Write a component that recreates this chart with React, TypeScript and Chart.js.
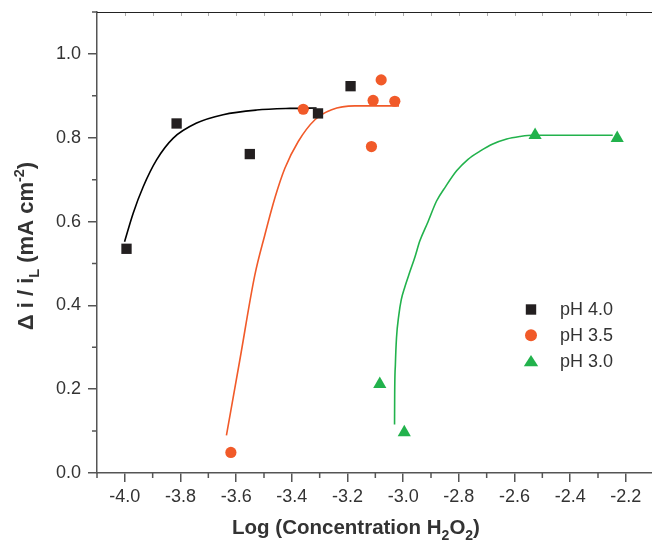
import React, { useEffect, useRef } from 'react';
import { Chart, registerables } from 'chart.js';

Chart.register(...registerables);

// ---------- data ----------
const PH40_X = [-3.994, -3.814, -3.551, -3.306, -3.189];
const PH40_Y = [0.535, 0.834, 0.761, 0.858, 0.923];

const PH35_X = [-3.619, -3.359, -3.114, -3.108, -3.079, -3.030];
const PH35_Y = [0.049, 0.868, 0.779, 0.889, 0.938, 0.887];

const PH30_X = [-3.084, -2.996, -2.526, -2.231];
const PH30_Y = [0.212, 0.097, 0.806, 0.799];

const FIT40_X = [-4.001, -3.970, -3.934, -3.886, -3.826, -3.742, -3.647, -3.527, -3.407, -3.311];
const FIT40_Y = [0.552, 0.620, 0.683, 0.747, 0.799, 0.835, 0.855, 0.866, 0.870, 0.871];

const FIT35_X = [-3.635, -3.587, -3.533, -3.497, -3.461, -3.425, -3.377, -3.317, -3.257, -3.174, -3.015];
const FIT35_Y = [0.090, 0.269, 0.472, 0.568, 0.656, 0.727, 0.791, 0.843, 0.867, 0.876, 0.876];

const FIT30_X = [-3.031, -3.0305, -3.028, -3.024, -3.016, -3.007, -2.994, -2.976, -2.958, -2.940, -2.911, -2.880, -2.847, -2.808, -2.768, -2.724, -2.678, -2.628, -2.580, -2.537, -2.247];
const FIT30_Y = [0.116, 0.186, 0.258, 0.322, 0.375, 0.413, 0.444, 0.480, 0.515, 0.554, 0.599, 0.649, 0.684, 0.721, 0.748, 0.768, 0.785, 0.797, 0.803, 0.806, 0.806];

const X_TICKS = [-4.0, -3.8, -3.6, -3.4, -3.2, -3.0, -2.8, -2.6, -2.4, -2.2];
const X_MINOR = [-4.1, -3.9, -3.7, -3.5, -3.3, -3.1, -2.9, -2.7, -2.5, -2.3];
const TOP_TICKS = [-4.0, -3.9, -3.8, -3.7, -3.6, -3.5, -3.4, -3.3, -3.2, -3.1, -3.0, -2.9, -2.8, -2.7, -2.6, -2.5, -2.4, -2.3, -2.2];
const Y_TICKS = [0.0, 0.2, 0.4, 0.6, 0.8, 1.0];
const Y_MINOR = [0.1, 0.3, 0.5, 0.7, 0.9, 1.1];

const LEGEND_LABELS = ['pH 4.0', 'pH 3.5', 'pH 3.0'];
const X_TITLE = [
  { t: 'Log (Concentration H', k: 'n' },
  { t: '2', k: 'sub' },
  { t: 'O', k: 'n' },
  { t: '2', k: 'sub' },
  { t: ')', k: 'n' },
];
const Y_TITLE = [
  { t: 'Δ i / i', k: 'n' },
  { t: 'L', k: 'sub' },
  { t: ' (mA cm', k: 'n' },
  { t: '-2', k: 'sup' },
  { t: ')', k: 'n' },
];

// ---------- styles ----------
const FONT = "'Liberation Sans', Arial, Helvetica, sans-serif";
const BLACK = '#231f20';
const ORANGE = '#f15a29';
const GREEN = '#22b24c';
const AXIS = '#555555';
const TEXT = '#333333';

const pts = (xs: number[], ys: number[]) => xs.map((x, i) => ({ x, y: ys[i] }));

function drawRich(ctx: CanvasRenderingContext2D, parts: { t: string; k: string }[], cx: number, baseline: number, size: number, subSize: number) {
  const fontFor = (k: string) => `bold ${k === 'n' ? size : subSize}px ${FONT}`;
  let total = 0;
  const widths = parts.map((p) => {
    ctx.font = fontFor(p.k);
    const w = ctx.measureText(p.t).width;
    total += w;
    return w;
  });
  let x = cx - total / 2;
  ctx.textAlign = 'left';
  ctx.textBaseline = 'alphabetic';
  parts.forEach((p, i) => {
    ctx.font = fontFor(p.k);
    const dy = p.k === 'sub' ? size * 0.28 : p.k === 'sup' ? -size * 0.42 : 0;
    ctx.fillText(p.t, x, baseline + dy);
    x += widths[i];
  });
}

const decorPlugin = {
  id: 'decor',
  afterDraw(chart: any) {
    const { ctx, chartArea, scales } = chart;
    const xs = scales.x;
    const ys = scales.y;
    ctx.save();
    // top border
    ctx.strokeStyle = '#222222';
    ctx.lineWidth = 1;
    ctx.beginPath();
    ctx.moveTo(chartArea.left, chartArea.top + 0.5);
    ctx.lineTo(chartArea.right, chartArea.top + 0.5);
    ctx.stroke();
    // top inward ticks
    ctx.strokeStyle = '#aaaaaa';
    ctx.beginPath();
    TOP_TICKS.forEach((v) => {
      const px = Math.round(xs.getPixelForValue(v)) + 0.5;
      ctx.moveTo(px, chartArea.top + 1);
      ctx.lineTo(px, chartArea.top + 4);
    });
    ctx.stroke();
    // minor ticks
    ctx.strokeStyle = AXIS;
    ctx.lineWidth = 1.5;
    ctx.beginPath();
    X_MINOR.forEach((v) => {
      const px = xs.getPixelForValue(v);
      ctx.moveTo(px, chartArea.bottom);
      ctx.lineTo(px, chartArea.bottom + 5);
    });
    Y_MINOR.forEach((v) => {
      const py = ys.getPixelForValue(v);
      ctx.moveTo(chartArea.left - 5, py);
      ctx.lineTo(chartArea.left, py);
    });
    ctx.stroke();

    // axis titles
    ctx.fillStyle = TEXT;
    drawRich(ctx, X_TITLE, 356, 534, 20.5, 14);
    ctx.save();
    ctx.translate(33, 246);
    ctx.rotate(-Math.PI / 2);
    drawRich(ctx, Y_TITLE, 0, 0, 22, 14.5);
    ctx.restore();

    // legend
    const lx = 531;
    const rows = [309.5, 335.2, 361];
    ctx.fillStyle = BLACK;
    ctx.fillRect(lx - 5.2, rows[0] - 5.2, 10.4, 10.4);
    ctx.fillStyle = ORANGE;
    ctx.beginPath();
    ctx.arc(lx, rows[1], 6, 0, Math.PI * 2);
    ctx.fill();
    ctx.fillStyle = GREEN;
    ctx.beginPath();
    ctx.moveTo(lx, rows[2] - 6);
    ctx.lineTo(lx + 7.2, rows[2] + 5.2);
    ctx.lineTo(lx - 7.2, rows[2] + 5.2);
    ctx.closePath();
    ctx.fill();
    ctx.fillStyle = TEXT;
    ctx.font = `18px ${FONT}`;
    ctx.textAlign = 'left';
    ctx.textBaseline = 'middle';
    LEGEND_LABELS.forEach((l, i) => ctx.fillText(l, 560, rows[i] + 1));
    ctx.restore();
  },
};

const zeroPad = (s: any) => {
  s.paddingTop = 0;
  s.paddingBottom = 0;
  s.paddingLeft = 0;
  s.paddingRight = 0;
};

export default function App() {
  const ref = useRef<HTMLCanvasElement>(null);
  useEffect(() => {
    if (!ref.current) return;
    const chart = new Chart(ref.current, {
      type: 'scatter',
      data: {
        datasets: [
          { label: 'pH 4.0', data: pts(PH40_X, PH40_Y), pointStyle: 'rect', pointRadius: 7.3, backgroundColor: BLACK, borderWidth: 0, showLine: false },
          { label: 'pH 3.5', data: pts(PH35_X, PH35_Y), pointStyle: 'circle', pointRadius: 5.6, backgroundColor: ORANGE, borderWidth: 0, showLine: false },
          { label: 'pH 3.0', data: pts(PH30_X, PH30_Y), pointStyle: 'triangle', pointRadius: 7.6, backgroundColor: GREEN, borderWidth: 0, showLine: false },
          { label: 'fit 4.0', data: pts(FIT40_X, FIT40_Y), showLine: true, borderColor: '#000000', borderWidth: 1.6, pointRadius: 0, cubicInterpolationMode: 'monotone', fill: false },
          { label: 'fit 3.5', data: pts(FIT35_X, FIT35_Y), showLine: true, borderColor: ORANGE, borderWidth: 1.6, pointRadius: 0, cubicInterpolationMode: 'monotone', fill: false },
          { label: 'fit 3.0', data: pts(FIT30_X, FIT30_Y), showLine: true, borderColor: GREEN, borderWidth: 1.6, pointRadius: 0, cubicInterpolationMode: 'monotone', fill: false },
        ] as any,
      },
      options: {
        animation: false,
        responsive: false,
        devicePixelRatio: 1,
        layout: { autoPadding: false, padding: { top: 12, right: 0, left: 0, bottom: 0 } },
        plugins: { legend: { display: false }, tooltip: { enabled: false } },
        scales: {
          x: {
            type: 'linear',
            min: -4.1,
            max: -2.106,
            afterBuildTicks: (s: any) => { s.ticks = X_TICKS.map((v) => ({ value: v })); },
            afterFit: (s: any) => { s.height = 70; zeroPad(s); },
            ticks: { callback: (v: any) => Number(v).toFixed(1), color: TEXT, font: { family: FONT, size: 18 }, padding: 4, maxRotation: 0, autoSkip: false },
            grid: { drawOnChartArea: false, drawTicks: true, tickLength: 9, color: AXIS, lineWidth: 1.5 },
            border: { display: true, color: AXIS, width: 1.5 },
          },
          y: {
            type: 'linear',
            min: 0,
            max: 1.1,
            afterBuildTicks: (s: any) => { s.ticks = Y_TICKS.map((v) => ({ value: v })); },
            afterFit: (s: any) => { s.width = 97; zeroPad(s); },
            ticks: { callback: (v: any) => Number(v).toFixed(1), color: TEXT, font: { family: FONT, size: 18 }, padding: 7, autoSkip: false },
            grid: { drawOnChartArea: false, drawTicks: true, tickLength: 9, color: AXIS, lineWidth: 1.5 },
            border: { display: true, color: AXIS, width: 1.5 },
          },
        },
      } as any,
      plugins: [decorPlugin],
    });
    return () => chart.destroy();
  }, []);
  return (
    <div style={{ position: 'absolute', left: 0, top: 0, width: 652, height: 543, background: '#ffffff' }}>
      <canvas ref={ref} width={652} height={543} style={{ display: 'block', width: 652, height: 543 }} />
    </div>
  );
}
